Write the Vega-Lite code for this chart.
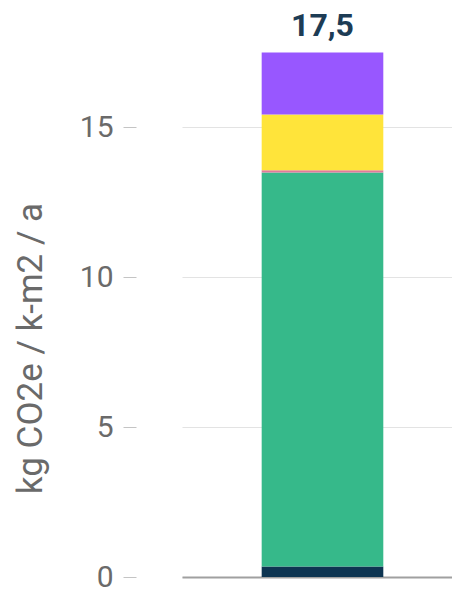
{
  "$schema": "https://vega.github.io/schema/vega-lite/v6.json",
  "autosize": "none",
  "width": 270,
  "height": 567,
  "padding": {"left": 182, "top": 10, "right": 0, "bottom": 14},
  "background": "white",
  "datasets": {
    "segments": [
      {"kohde": "Rakennus", "osa": "Osa 1", "jarjestys": 1, "arvo": 0.35},
      {"kohde": "Rakennus", "osa": "Osa 2", "jarjestys": 2, "arvo": 13.15},
      {"kohde": "Rakennus", "osa": "Osa 3", "jarjestys": 3, "arvo": 0.07},
      {"kohde": "Rakennus", "osa": "Osa 4", "jarjestys": 4, "arvo": 1.86},
      {"kohde": "Rakennus", "osa": "Osa 5", "jarjestys": 5, "arvo": 2.07}
    ],
    "total": [
      {"kohde": "Rakennus", "summa": 17.5, "teksti": "17,5"}
    ]
  },
  "encoding": {
    "x": {
      "field": "kohde",
      "type": "nominal",
      "scale": {"paddingInner": 0, "paddingOuter": 0.61, "align": 0.537},
      "axis": {"title": null, "labels": false, "ticks": false, "domain": true, "domainColor": "#a0a0a0", "domainWidth": 2, "grid": false}
    }
  },
  "layer": [
    {
      "data": {"name": "segments"},
      "mark": {"type": "bar"},
      "encoding": {
        "y": {
          "field": "arvo",
          "type": "quantitative",
          "stack": "zero",
          "scale": {"domain": [0, 18.92], "nice": false, "zero": true},
          "axis": {
            "title": "kg CO2e / k-m2 / a",
            "values": [0, 5, 10, 15],
            "offset": 46,
            "domain": false,
            "ticks": true,
            "tickSize": 13,
            "tickColor": "#c4c4c4",
            "tickWidth": 1,
            "grid": true,
            "gridColor": "#e3e3e3",
            "gridWidth": 1,
            "labelFont": "Roboto",
            "labelFontSize": 30,
            "labelColor": "#6a6a6a",
            "labelPadding": 10,
            "titleFont": "Roboto",
            "titleFontSize": 35,
            "titleFontWeight": "normal",
            "titleColor": "#6a6a6a",
            "titlePadding": 31,
            "titleY": 338
          }
        },
        "color": {
          "field": "osa",
          "type": "nominal",
          "scale": {
            "domain": ["Osa 1", "Osa 2", "Osa 3", "Osa 4", "Osa 5"],
            "range": ["#0d3552", "#36b98a", "#e07a9c", "#ffe43a", "#9857ff"]
          },
          "legend": null
        },
        "order": {"field": "jarjestys", "type": "quantitative"}
      }
    },
    {
      "data": {"name": "total"},
      "mark": {"type": "text", "font": "Roboto", "fontSize": 32, "fontWeight": "bold", "color": "#1d3c55", "baseline": "alphabetic", "dy": -17},
      "encoding": {
        "y": {"field": "summa", "type": "quantitative"},
        "text": {"field": "teksti", "type": "nominal"}
      }
    }
  ],
  "config": {"view": {"stroke": null}}
}
